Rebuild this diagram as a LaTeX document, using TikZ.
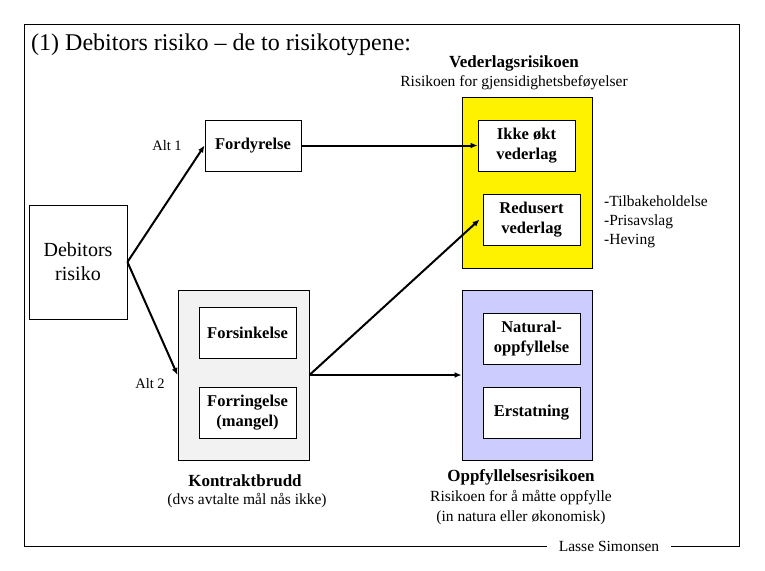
\documentclass[tikz,border=0pt]{standalone}
\usepackage{fontspec}
\setmainfont{Liberation Serif}
\usetikzlibrary{arrows.meta}
\tikzset{
  box/.style={draw=black, line width=0.9pt, fill=white, align=center, inner sep=0pt,
    font=\fontsize{16.5}{20}\selectfont\bfseries},
  cont/.style={draw=black, line width=0.9pt, inner sep=0pt},
  arr/.style={line width=2pt, -{Latex[length=7pt,width=6pt]}},
  lbl/.style={inner sep=0pt, align=center},
  small/.style={font=\fontsize{15.5}{20}\selectfont},
  bold/.style={font=\fontsize{17}{20}\selectfont\bfseries},
}
\begin{document}
\begin{tikzpicture}[x=1pt,y=-1pt]
\useasboundingbox (0,0) rectangle (765,570);
% frame
\draw[line width=1pt] (24,24) rectangle (739,546);
\node[lbl, small, fill=white, inner xsep=12pt, inner ysep=2pt] (author) at (609,546) {Lasse Simonsen};
% title
\node[lbl, anchor=west, font=\fontsize{24}{28}\selectfont] (title) at (31,45) {(1) Debitors risiko -- de to risikotypene:};
% containers
\node[cont, fill=black!5, minimum width=131pt, minimum height=170pt] (gray) at (243.5,375) {};
\node[cont, fill=yellow, minimum width=130pt, minimum height=171pt] (yel) at (527,182.5) {};
\node[cont, fill={rgb,255:red,204;green,204;blue,255}, minimum width=130pt, minimum height=170pt] (blue) at (527,375) {};
% boxes
\node[box, font=\fontsize{20}{24}\selectfont, minimum width=98pt, minimum height=114pt] (debit) at (78,262) {Debitors\\risiko};
\node[box, minimum width=96pt, minimum height=51pt] (ford) at (253,145.5) {Fordyrelse};
\node[box, minimum width=97pt, minimum height=51pt] (ikke) at (526.5,145.5) {Ikke økt\\vederlag};
\node[box, minimum width=97pt, minimum height=51pt] (redu) at (531.5,219.5) {Redusert\\vederlag};
\node[box, minimum width=97pt, minimum height=51pt] (nat) at (531.5,338.5) {Natural-\\oppfyllelse};
\node[box, minimum width=97pt, minimum height=51pt] (erst) at (531.5,412.5) {Erstatning};
\node[box, minimum width=97pt, minimum height=51pt] (fors) at (247.5,332.5) {Forsinkelse};
\node[box, minimum width=97pt, minimum height=51pt] (forr) at (247.5,412.5) {Forringelse\\(mangel)};
% labels
\node[lbl, font=\fontsize{14.5}{16}\selectfont] (alt1) at (167,146) {Alt 1};
\node[lbl, font=\fontsize{14.5}{16}\selectfont] (alt2) at (150,384) {Alt 2};
\node[lbl, bold] (vedl) at (514,63) {Vederlagsrisikoen};
\node[lbl, small] (vedsub) at (514,83) {Risikoen for gjensidighetsbeføyelser};
\node[lbl, small, anchor=west, align=left, font=\fontsize{15.5}{19}\selectfont] (list) at (604,222) {-Tilbakeholdelse\\-Prisavslag\\-Heving};
\node[lbl, bold] (kb) at (245,481) {Kontraktbrudd};
\node[lbl, small] (kbsub) at (247,501) {(dvs avtalte mål nås ikke)};
\node[lbl, bold] (opp) at (521,477) {Oppfyllelsesrisikoen};
\node[lbl, small] (oppsub) at (521,508) {Risikoen for å måtte oppfylle\\(in natura eller økonomisk)};
% arrows
\draw[arr] (debit.east) -- (ford.west);
\draw[arr] (debit.east) -- (gray.west);
\draw[arr] (ford.east) -- (ikke.west);
\draw[arr] (gray.east) -- ([xshift=-3pt]redu.west);
\draw[arr] (gray.east) -- (blue.west);
\end{tikzpicture}
\end{document}
